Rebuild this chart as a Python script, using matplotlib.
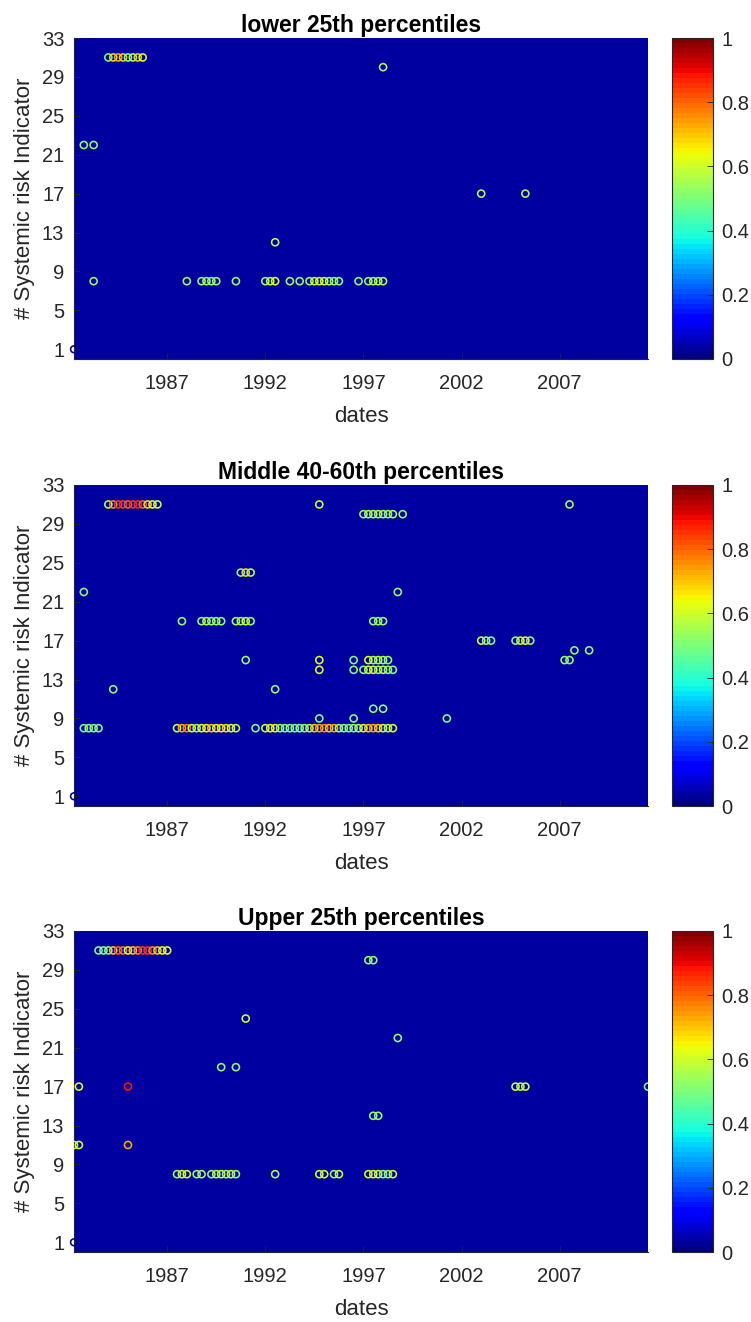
import numpy as np
import matplotlib
matplotlib.use("Agg")
import matplotlib.pyplot as plt
from matplotlib.colors import Normalize

plt.rcParams['font.family'] = ['Liberation Sans', 'DejaVu Sans']

# ---------------- data (x = quarter-end date as decimal year, y = indicator #, v = value) -------------
titles = ["lower 25th percentiles", "Middle 40-60th percentiles", "Upper 25th percentiles"]
year_ticks = [1987, 1992, 1997, 2002, 2007]
ind_ticks = [1, 5, 9, 13, 17, 21, 25, 29, 33]
cbar_ticks = [0, 0.2, 0.4, 0.6, 0.8, 1]
cbar_labels = ["0", "0.2", "0.4", "0.6", "0.8", "1"]

# reference (dummy) point at first date
ref_x = 1982.25
ref_y = 1
ref_v = 0.0

# panel 1 : lower 25th
p1_x = [1984.0, 1984.25, 1984.5, 1984.75, 1985.0, 1985.25, 1985.5, 1985.75,
        1982.75, 1983.25,
        1998.0,
        2003.0, 2005.25,
        1992.5,
        1983.25, 1988.0, 1988.75, 1989.0, 1989.25, 1989.5, 1990.5, 1992.0, 1992.25, 1992.5,
        1993.25, 1993.75, 1994.25, 1994.5, 1994.75, 1995.0, 1995.25, 1995.5, 1995.75,
        1996.75, 1997.25, 1997.5, 1997.75, 1998.0]
p1_y = [31, 31, 31, 31, 31, 31, 31, 31,
        22, 22,
        30,
        17, 17,
        12,
        8, 8, 8, 8, 8, 8, 8, 8, 8, 8,
        8, 8, 8, 8, 8, 8, 8, 8, 8,
        8, 8, 8, 8, 8]
p1_v = [0.48, 0.68, 0.72, 0.70, 0.50, 0.55, 0.70, 0.62,
        0.52, 0.52,
        0.56,
        0.56, 0.56,
        0.57,
        0.52, 0.53, 0.52, 0.53, 0.53, 0.53, 0.52, 0.53, 0.58, 0.62,
        0.52, 0.52, 0.50, 0.58, 0.60, 0.60, 0.55, 0.53, 0.50,
        0.50, 0.52, 0.55, 0.55, 0.55]

# panel 2 : middle 40-60th
p2_x = [1984.0, 1984.25, 1984.5, 1984.75, 1985.0, 1985.25, 1985.5, 1985.75, 1986.0, 1986.25, 1986.5,
        1994.75, 2007.5,
        1997.0, 1997.25, 1997.5, 1997.75, 1998.0, 1998.25, 1998.5, 1999.0,
        1990.75, 1991.0, 1991.25,
        1982.75, 1998.75,
        1987.75, 1988.75, 1989.0, 1989.25, 1989.5, 1989.75, 1990.5, 1990.75, 1991.0, 1991.25,
        1997.5, 1997.75, 1998.0,
        2003.0, 2003.25, 2003.5, 2004.75, 2005.0, 2005.25, 2005.5,
        2007.75, 2008.5,
        1991.0, 1994.75, 1996.5, 1997.25, 1997.5, 1997.75, 1998.0, 1998.25, 2007.25, 2007.5,
        1994.75, 1996.5, 1997.0, 1997.25, 1997.5, 1997.75, 1998.0, 1998.25, 1998.5,
        1984.25, 1992.5,
        1997.5, 1998.0,
        1994.75, 1996.5, 2001.25,
        1982.75, 1983.0, 1983.25, 1983.5,
        1987.5, 1987.75, 1988.0, 1988.25, 1988.5, 1988.75, 1989.0, 1989.25, 1989.5, 1989.75,
        1990.0, 1990.25, 1990.5,
        1991.5,
        1992.0, 1992.25, 1992.5, 1992.75, 1993.0, 1993.25, 1993.5, 1993.75, 1994.0, 1994.25,
        1994.5, 1994.75, 1995.0, 1995.25, 1995.5, 1995.75, 1996.0, 1996.25, 1996.5, 1996.75,
        1997.0, 1997.25, 1997.5, 1997.75, 1998.0, 1998.25, 1998.5]
p2_y = [31] * 11 + [31, 31] + [30] * 8 + [24] * 3 + [22, 22] + [19] * 10 + [19] * 3 + \
       [17] * 7 + [16, 16] + [15] * 10 + [14] * 9 + [12, 12] + [10, 10] + [9, 9, 9] + \
       [8] * 4 + [8] * 13 + [8] + [8] * 27
p2_v = [0.57, 0.75, 0.85, 0.85, 0.80, 0.85, 0.87, 0.80, 0.68, 0.62, 0.60,
        0.60, 0.55,
        0.53, 0.56, 0.55, 0.55, 0.55, 0.53, 0.55, 0.52,
        0.52, 0.68, 0.56,
        0.52, 0.52,
        0.52, 0.52, 0.55, 0.52, 0.53, 0.52, 0.55, 0.52, 0.60, 0.52,
        0.52, 0.52, 0.52,
        0.62, 0.52, 0.50, 0.53, 0.58, 0.65, 0.52,
        0.52, 0.52,
        0.52, 0.62, 0.50, 0.62, 0.55, 0.55, 0.55, 0.52, 0.52, 0.52,
        0.62, 0.50, 0.50, 0.60, 0.62, 0.52, 0.58, 0.52, 0.50,
        0.52, 0.52,
        0.52, 0.52,
        0.50, 0.50, 0.50,
        0.50, 0.50, 0.50, 0.50,
        0.60, 0.72, 0.78, 0.62, 0.52, 0.62, 0.65, 0.70, 0.62, 0.65,
        0.68, 0.60, 0.58,
        0.50,
        0.60, 0.62, 0.65, 0.52, 0.50, 0.50, 0.50, 0.50, 0.52, 0.55,
        0.70, 0.72, 0.75, 0.70, 0.72, 0.55, 0.52, 0.50, 0.52, 0.55,
        0.60, 0.70, 0.72, 0.70, 0.60, 0.55, 0.62]

# panel 3 : upper 25th
p3_x = [1983.5, 1983.75, 1984.0, 1984.25, 1984.5, 1984.75, 1985.0, 1985.25, 1985.5, 1985.75,
        1986.0, 1986.25, 1986.5, 1986.75, 1987.0,
        1997.25, 1997.5,
        1991.0,
        1998.75,
        1989.75, 1990.5,
        1982.5, 1985.0, 2004.75, 2005.0, 2005.25, 2011.5,
        1997.5, 1997.75,
        1982.25, 1982.5, 1985.0,
        1987.5, 1987.75, 1988.0, 1988.5, 1988.75, 1989.25, 1989.5, 1989.75, 1990.0, 1990.25, 1990.5,
        1992.5, 1994.75, 1995.0, 1995.5, 1995.75,
        1997.25, 1997.5, 1997.75, 1998.0, 1998.25, 1998.5]
p3_y = [31] * 15 + [30, 30] + [24] + [22] + [19, 19] + [17] * 6 + [14, 14] + [11] * 3 + \
       [8] * 11 + [8] * 5 + [8] * 6
p3_v = [0.50, 0.52, 0.50, 0.70, 0.80, 0.78, 0.62, 0.70, 0.75, 0.85,
        0.85, 0.75, 0.70, 0.62, 0.63,
        0.52, 0.52,
        0.60,
        0.52,
        0.52, 0.52,
        0.62, 0.88, 0.60, 0.56, 0.60, 0.52,
        0.52, 0.52,
        0.55, 0.62, 0.72,
        0.52, 0.60, 0.60, 0.52, 0.55, 0.52, 0.55, 0.60, 0.52, 0.60, 0.52,
        0.55, 0.60, 0.60, 0.52, 0.60,
        0.60, 0.60, 0.60, 0.50, 0.52, 0.60]

panels = [(p1_x, p1_y, p1_v), (p2_x, p2_y, p2_v), (p3_x, p3_y, p3_v)]

# ---------------- figure -------------
W, H = 751, 1322
fig = plt.figure(figsize=(W / 100, H / 100), dpi=100)
cmap = plt.get_cmap('jet', 64)
norm = Normalize(0, 1)
txt_col = '#262626'
bg = '#0000A0'

ax_left, ax_right = 74, 648
cb_left, cb_right = 672, 713
tops = [38, 485, 931]
height = 321

for i, (xs, ys, vs) in enumerate(panels):
    top = tops[i]
    bottom = top + height
    ax = fig.add_axes([ax_left / W, 1 - bottom / H, (ax_right - ax_left) / W, height / H])
    ax.set_facecolor(bg)
    ax.scatter(xs, ys, marker='o', facecolors='none',
               edgecolors=cmap(norm(np.asarray(vs))),
               s=26, linewidths=1.15, zorder=3)
    ax.scatter([ref_x], [ref_y], marker='o', facecolors='none',
               edgecolors=[cmap(norm(ref_v))], s=24, linewidths=1.15, zorder=3, clip_on=False)
    ax.set_xlim(1982.25, 2011.5)
    ax.set_ylim(0, 33)
    ax.set_xticks(year_ticks)
    ax.set_xticklabels([str(t) for t in year_ticks])
    ax.set_yticks(ind_ticks)
    ax.tick_params(direction='in', length=4, width=0.6, colors=txt_col, labelsize=14.5)
    ax.tick_params(axis='x', pad=11)
    ax.tick_params(axis='y', pad=7)
    for s in ['top', 'right']:
        ax.spines[s].set_visible(False)
    for s in ['left', 'bottom']:
        ax.spines[s].set_color(txt_col)
        ax.spines[s].set_linewidth(0.8)
    ax.set_title(titles[i], fontsize=16.5, fontweight='bold', color='black', pad=4)
    ax.set_xlabel('dates', fontsize=16, color=txt_col, labelpad=9)
    ax.set_ylabel('# Systemic risk Indicator', fontsize=16, color=txt_col, labelpad=5)

    cax = fig.add_axes([cb_left / W, 1 - bottom / H, (cb_right - cb_left) / W, height / H])
    cb = fig.colorbar(plt.cm.ScalarMappable(norm=norm, cmap=cmap), cax=cax)
    cb.set_ticks(cbar_ticks)
    cb.set_ticklabels(cbar_labels)
    cb.ax.tick_params(direction='in', length=4, width=0.6, colors=txt_col, labelsize=14.5, pad=6)
    cb.outline.set_edgecolor(txt_col)
    cb.outline.set_linewidth(0.8)

fig.savefig('out.png', dpi=100)
